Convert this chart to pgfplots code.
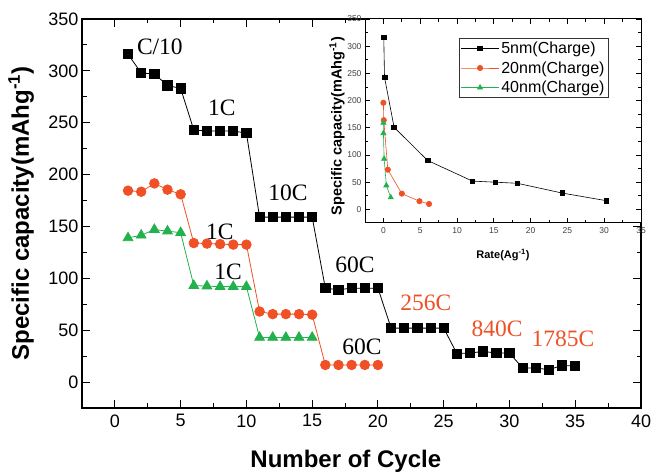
\documentclass[border=0pt]{standalone}
\usepackage{pgfplots}
\pgfplotsset{compat=1.18}
\usepackage{fontspec}
\setmainfont{Liberation Sans}
\newfontfamily\serifann{Liberation Serif}
\definecolor{myred}{RGB}{240,80,38}
\definecolor{mygreen}{RGB}{34,177,76}
\pgfplotstableread{
x y
1 316
2 298
3 297
4 286
5 283
6 243
7 242
8 242
9 242
10 240
11 159
12 159
13 159
14 159
15 159
16 90.5
17 89
18 90.5
19 90.5
20 90.5
21 52
22 52
23 52
24 52
25 52
26 27.5
27 28
28 29.5
29 28
30 28
31 13.5
32 13.5
33 12
34 16
35 15.5
}\blackdata
\pgfplotstableread{
x y
1 184.5
2 183.5
3 191.5
4 185.5
5 181
6 134
7 133.5
8 133
9 132.5
10 132.5
11 68
12 65.5
13 65.5
14 65.5
15 65
16 16.5
17 16.5
18 16.5
19 16.5
20 16.5
}\reddata
\pgfplotstableread{
x y
1 139
2 141.5
3 147
4 145.5
5 144
6 93
7 92.5
8 92
9 92
10 92
11 43
12 43
13 43
14 43
15 43
}\greendata
\pgfplotstableread{
x y
0.05 316
0.15 243
1.45 151
6.0 90
12.1 52
15.2 50
18.2 48
24.3 30
30.3 16
}\insetblack
\pgfplotstableread{
x y
0.0 196
0.05 164
0.6 73
2.5 29
4.9 15
6.2 10
}\insetred
\pgfplotstableread{
x y
0.0 159
0.0 140
0.1 93
0.4 44
1.0 22
}\insetgreen
\begin{document}
\begin{tikzpicture}[x=1pt,y=1pt]
\useasboundingbox (0,0) rectangle (652,473);
\begin{axis}[
  at={(82pt,65pt)}, anchor=south west,
  width=559pt, height=389pt, scale only axis,
  xmin=-2.5, xmax=40, ymin=-25, ymax=350,
  xtick={0,5,...,40}, ytick={0,50,...,350},
  minor x tick num=1, minor y tick num=1,
  tick align=inside,
  major tick length=8pt, minor tick length=4.5pt,
  axis line style={line width=1.3pt},
  every tick/.style={line width=1pt, black},
  /pgf/number format/assume math mode=true,
  tick label style={font=\fontsize{18}{20}\selectfont},
  xticklabel style={yshift=-3pt},
  xlabel={\bfseries Number of Cycle},
  ylabel={\bfseries Specific capacity(mAhg\textsuperscript{-1})},
  label style={font=\fontsize{24}{26}\selectfont},
  xlabel style={at={(axis description cs:0.472,-0.136)}, anchor=center},
  ylabel style={at={(axis description cs:-0.109,0.5)}, anchor=center},
  clip=false,
]
\addplot[black, line width=0.8pt, mark=square*, mark size=4.6pt, mark options={solid,fill=black}] table[x=x,y=y] {\blackdata};
\addplot[myred, line width=0.8pt, mark=*, mark size=4.8pt, mark options={solid,fill=myred,draw=myred}] table[x=x,y=y] {\reddata};
\addplot[mygreen, line width=0.8pt, mark=triangle*, mark size=5.6pt, mark options={solid,fill=mygreen,draw=mygreen}] table[x=x,y=y] {\greendata};
\begin{scope}[every node/.style={font=\serifann\fontsize{23.5}{25}\selectfont, inner sep=0pt}]
\node at (axis cs:3.42,323) {C/10};
\node at (axis cs:8.14,264) {1C};
\node at (axis cs:13.16,182) {10C};
\node at (axis cs:18.25,113) {60C};
\node at (axis cs:7.98,144.6) {1C};
\node at (axis cs:8.6,106) {1C};
\node at (axis cs:18.78,33.7) {60C};
\node[text=myred] at (axis cs:23.65,76) {256C};
\node[text=myred] at (axis cs:29.05,51) {840C};
\node[text=myred] at (axis cs:34.07,41.5) {1785C};
\end{scope}
\end{axis}
\begin{axis}[
  at={(365pt,250pt)}, anchor=south west,
  width=276pt, height=204pt, scale only axis,
  axis background/.style={fill=white},
  xmin=-2.5, xmax=35, ymin=-25, ymax=350,
  xtick={0,5,...,35}, ytick={0,50,...,350},
  minor x tick num=1, minor y tick num=1,
  tick align=inside,
  major tick length=5pt, minor tick length=3pt,
  axis line style={line width=1pt},
  every tick/.style={line width=0.8pt, black},
  /pgf/number format/assume math mode=true,
  tick label style={font=\fontsize{8.5}{10}\selectfont, text=black!75},
  xticklabel style={yshift=-1pt},
  xlabel={\bfseries Rate(Ag\textsuperscript{-1})},
  ylabel={\bfseries Specific capacity(mAhg\textsuperscript{-1})},
  xlabel style={font=\fontsize{11}{12}\selectfont, at={(axis description cs:0.5,-0.157)}, anchor=center},
  ylabel style={font=\fontsize{14.5}{16}\selectfont, at={(axis description cs:-0.101,0.475)}, anchor=center},
  legend style={at={(axis description cs:0.34,0.907)}, anchor=north west,
    font=\fontsize{16}{18}\selectfont, draw=black!80, line width=0.8pt,
    inner sep=1.5pt, row sep=2.5pt, cells={anchor=west}},
  legend image code/.code={\draw[mark repeat=2,mark phase=2,#1] plot coordinates {(0pt,0pt) (19pt,0pt) (38pt,0pt)};},
]
\addplot[black, line width=0.6pt, mark=square*, mark size=2.3pt, mark options={solid,fill=black}] table[x=x,y=y] {\insetblack};
\addlegendentry{5nm(Charge)}
\addplot[myred, line width=0.6pt, mark=*, mark size=2.7pt, mark options={solid,fill=myred,draw=myred}] table[x=x,y=y] {\insetred};
\addlegendentry{20nm(Charge)}
\addplot[mygreen, line width=0.6pt, mark=triangle*, mark size=3pt, mark options={solid,fill=mygreen,draw=mygreen}] table[x=x,y=y] {\insetgreen};
\addlegendentry{40nm(Charge)}
\end{axis}
\end{tikzpicture}
\end{document}
